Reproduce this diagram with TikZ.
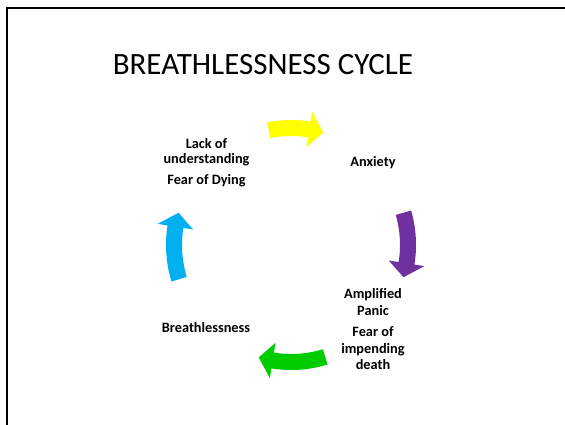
\documentclass[tikz,border=0pt]{standalone}
\usepackage{fontspec}
\setmainfont{Carlito}
\usepackage{tikz}
\usetikzlibrary{positioning}
\definecolor{cycyellow}{HTML}{FFFF00}
\definecolor{cycpurple}{HTML}{7030A0}
\definecolor{cycgreen}{HTML}{00CC00}
\definecolor{cycblue}{HTML}{00B0F0}
\tikzset{
  slideframe/.style={draw=black, line width=2.4pt},
  titletext/.style={font=\fontsize{31}{37}\selectfont, inner sep=0pt},
  steptext/.style={font=\bfseries\fontsize{14.3}{16.5}\selectfont, align=center, inner sep=0pt},
  cyclearrow/.style={fill=#1, draw=none}
}

\begin{document}
\begin{tikzpicture}[x=1pt, y=1pt]
      \useasboundingbox (0,0) rectangle (565,425);
      \draw[slideframe] (7,0) -- (7,417) -- (565,417);
      \node[titletext] (title) at (263,360) {BREATHLESSNESS CYCLE};
      \coordinate (ctr) at (291,180);
      % the four curved arrows round the cycle
      \fill[cyclearrow=cycyellow, shift={(ctr)}] (101:125) arc[start angle=101, end angle=81, radius=125] -- (81:135) -- (74:117) -- (81:99) -- (81:109) arc[start angle=81, end angle=101, radius=109] -- cycle;
      \fill[cyclearrow=cycpurple, shift={(ctr)}] (16:125) arc[start angle=16, end angle=-9, radius=125] -- (-9:135) -- (-16:117) -- (-9:99) -- (-9:109) arc[start angle=-9, end angle=16, radius=109] -- cycle;
      \fill[cyclearrow=cycgreen, shift={(ctr)}] (-73:125) arc[start angle=-73, end angle=-99, radius=125] -- (-99:135) -- (-106:117) -- (-99:99) -- (-99:109) arc[start angle=-99, end angle=-73, radius=109] -- cycle;
      \fill[cyclearrow=cycblue, shift={(ctr)}] (197:125) arc[start angle=197, end angle=171, radius=125] -- (171:135) -- (164:117) -- (171:99) -- (171:109) arc[start angle=171, end angle=197, radius=109] -- cycle;
      % step labels
      \node[steptext, anchor=base] (anxiety) at (373,258.5) {Anxiety};
      \node[steptext, anchor=north] (panic) at (373,136.5) {Amplified\\Panic\\[5pt]Fear of\\impending\\death};
      \node[steptext, anchor=base] (breath) at (206,92.5) {Breathlessness};
      \node[steptext, anchor=north] (lack) at (206.5,287) {Lack of\\[-1.5pt]understanding\\[5pt]Fear of Dying};
    \end{tikzpicture}
\end{document}
